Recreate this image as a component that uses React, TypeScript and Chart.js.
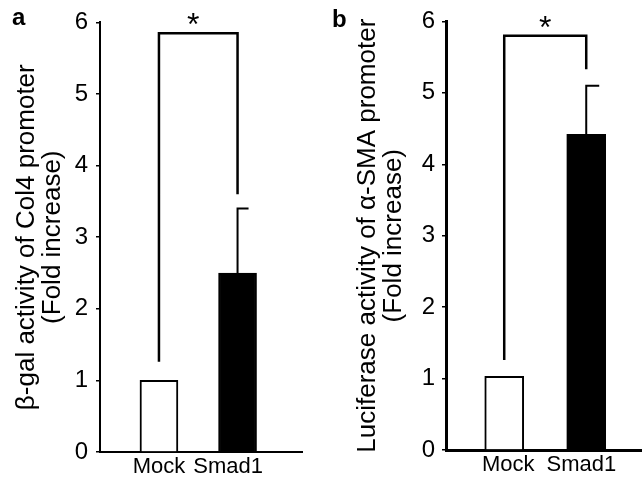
import React, { useEffect, useRef } from 'react';
import { Chart, registerables } from 'chart.js';

Chart.register(...registerables);

const FONT = "'Liberation Sans', Arial, Helvetica, sans-serif";

// ---- data ----
const categories = ['Mock', 'Smad1'];
const yTickValues = [0, 1, 2, 3, 4, 5, 6];

const col4Means = [1.0, 2.5];
const col4Errors = [0, 0.9];
// [bracket level, left leg end, right leg end]
const col4Bracket = [5.85, 1.26, 3.6];
const col4Title = ['β-gal activity of Col4 promoter', '(Fold increase)'];

const smaMeans = [1.03, 4.42];
const smaErrors = [0, 0.68];
const smaBracket = [5.8, 1.26, 5.33];
const smaTitle = ['Luciferase activity of α-SMA promoter', '(Fold increase)'];

const fills = ['#ffffff', '#000000'];

type PanelCfg = {
  letter: string;
  left: number;
  width: number;
  padRight: number;
  yAxisWidth: number;
  xAxisHeight: number;
  xMin: number;
  xMax: number;
  barThickness: number;
  axisWidth: number;
  titlePad: number;
  titleLineHeight: number;
  tickPad: number;
  capLen: number;
  labelShift: number[];
  letterPos: number[];
  starShift: number;
};

const panelA: PanelCfg = {
  letter: 'a',
  left: 0,
  width: 320,
  padRight: 18,
  yAxisWidth: 100,
  xAxisHeight: 27,
  xMin: -0.75,
  xMax: 1.82,
  barThickness: 38,
  axisWidth: 2,
  titlePad: 14,
  titleLineHeight: 1.0,
  tickPad: 8,
  capLen: 11,
  labelShift: [0, -0.12],
  letterPos: [12, 25],
  starShift: -5,
};

const panelB: PanelCfg = {
  letter: 'b',
  left: 320,
  width: 322,
  padRight: 0,
  yAxisWidth: 126,
  xAxisHeight: 29,
  xMin: -0.71,
  xMax: 1.68,
  barThickness: 39,
  axisWidth: 3,
  titlePad: 35,
  titleLineHeight: 1.0,
  tickPad: 7,
  capLen: 13,
  labelShift: [0.05, -0.06],
  letterPos: [12, 27],
  starShift: 0,
};

function Panel({ cfg, means, errors, bracket, title }: { cfg: PanelCfg; means: number[]; errors: number[]; bracket: number[]; title: string[] }) {
  const ref = useRef<HTMLCanvasElement | null>(null);

  useEffect(() => {
    if (!ref.current) return;

    const annotations = {
      id: 'annotations' + cfg.letter,
      afterDraw(chart: any) {
        const ctx = chart.ctx;
        const xs = chart.scales.x;
        const ys = chart.scales.y;
        ctx.save();
        ctx.strokeStyle = '#000';
        ctx.fillStyle = '#000';
        // error bars (upper, cap on right side)
        ctx.lineWidth = 2;
        ctx.lineCap = 'butt';
        means.forEach((m, i) => {
          const e = errors[i];
          if (!e) return;
          const x = xs.getPixelForValue(i);
          const yb = ys.getPixelForValue(m);
          const yt = ys.getPixelForValue(m + e);
          ctx.beginPath();
          ctx.moveTo(x, yb);
          ctx.lineTo(x, yt);
          ctx.moveTo(x - 1, yt);
          ctx.lineTo(x + cfg.capLen, yt);
          ctx.stroke();
        });
        // significance bracket
        const [level, leftEnd, rightEnd] = bracket;
        const xl = xs.getPixelForValue(0);
        const xr = xs.getPixelForValue(1);
        const yl = ys.getPixelForValue(level);
        ctx.lineWidth = 2.5;
        ctx.lineJoin = 'miter';
        ctx.beginPath();
        ctx.moveTo(xl, ys.getPixelForValue(leftEnd));
        ctx.lineTo(xl, yl);
        ctx.lineTo(xr, yl);
        ctx.lineTo(xr, ys.getPixelForValue(rightEnd));
        ctx.stroke();
        // star
        ctx.font = `32px ${FONT}`;
        ctx.textAlign = 'center';
        ctx.textBaseline = 'alphabetic';
        const mt = ctx.measureText('*');
        const cy = yl - 14;
        const by = cy + (mt.actualBoundingBoxAscent - mt.actualBoundingBoxDescent) / 2;
        ctx.fillText('*', (xl + xr) / 2 + cfg.starShift, by);
        // panel letter
        ctx.font = `bold 24px ${FONT}`;
        ctx.textAlign = 'left';
        ctx.fillText(cfg.letter, cfg.letterPos[0], cfg.letterPos[1]);
        ctx.restore();
      },
    };

    const chart = new Chart(ref.current, {
      type: 'bar',
      data: {
        datasets: [
          {
            data: means.map((v, i) => ({ x: i, y: v })),
            backgroundColor: fills,
            borderColor: '#000',
            borderWidth: 2,
            barThickness: cfg.barThickness,
          } as any,
        ],
      },
      options: {
        animation: false,
        responsive: false,
        maintainAspectRatio: false,
        layout: { padding: { top: 20, left: 0, right: cfg.padRight, bottom: 0 } },
        plugins: {
          legend: { display: false },
          tooltip: { enabled: false },
          title: { display: false },
        },
        scales: {
          x: {
            type: 'linear',
            min: cfg.xMin,
            max: cfg.xMax,
            offset: false,
            grid: { display: false, drawTicks: false },
            border: { display: true, color: '#000', width: cfg.axisWidth },
            afterBuildTicks: (s: any) => {
              s.ticks = categories.map((_, i) => ({ value: i + cfg.labelShift[i] }));
            },
            afterFit: (s: any) => {
              s.height = cfg.xAxisHeight;
            },
            ticks: {
              color: '#000',
              font: { family: FONT, size: 22 },
              padding: 2,
              autoSkip: false,
              maxRotation: 0,
              callback: (_v: any, i: number) => categories[i],
            },
          },
          y: {
            type: 'linear',
            min: 0,
            max: 6,
            afterBuildTicks: (s: any) => {
              s.ticks = yTickValues.map((v) => ({ value: v }));
            },
            afterFit: (s: any) => {
              s.width = cfg.yAxisWidth;
            },
            grid: {
              display: true,
              drawOnChartArea: false,
              drawTicks: true,
              tickLength: 4,
              color: '#000',
              lineWidth: 1.5,
            },
            border: { display: true, color: '#000', width: cfg.axisWidth },
            ticks: {
              color: '#000',
              font: { family: FONT, size: 24 },
              padding: cfg.tickPad,
              callback: (v: any) => String(v),
            },
            title: {
              display: true,
              text: title,
              color: '#000',
              font: { family: FONT, size: 26, lineHeight: cfg.titleLineHeight },
              padding: { top: cfg.titlePad, bottom: 0 },
            },
          },
        },
      } as any,
      plugins: [annotations],
    });

    return () => chart.destroy();
  }, []);

  return (
    <canvas
      ref={ref}
      width={cfg.width}
      height={479}
      style={{ position: 'absolute', left: cfg.left, top: 0, width: cfg.width, height: 479 }}
    />
  );
}

export default function App() {
  return (
    <div style={{ position: 'fixed', left: 0, top: 0, width: 642, height: 479, background: '#fff' }}>
      <Panel cfg={panelA} means={col4Means} errors={col4Errors} bracket={col4Bracket} title={col4Title} />
      <Panel cfg={panelB} means={smaMeans} errors={smaErrors} bracket={smaBracket} title={smaTitle} />
    </div>
  );
}
